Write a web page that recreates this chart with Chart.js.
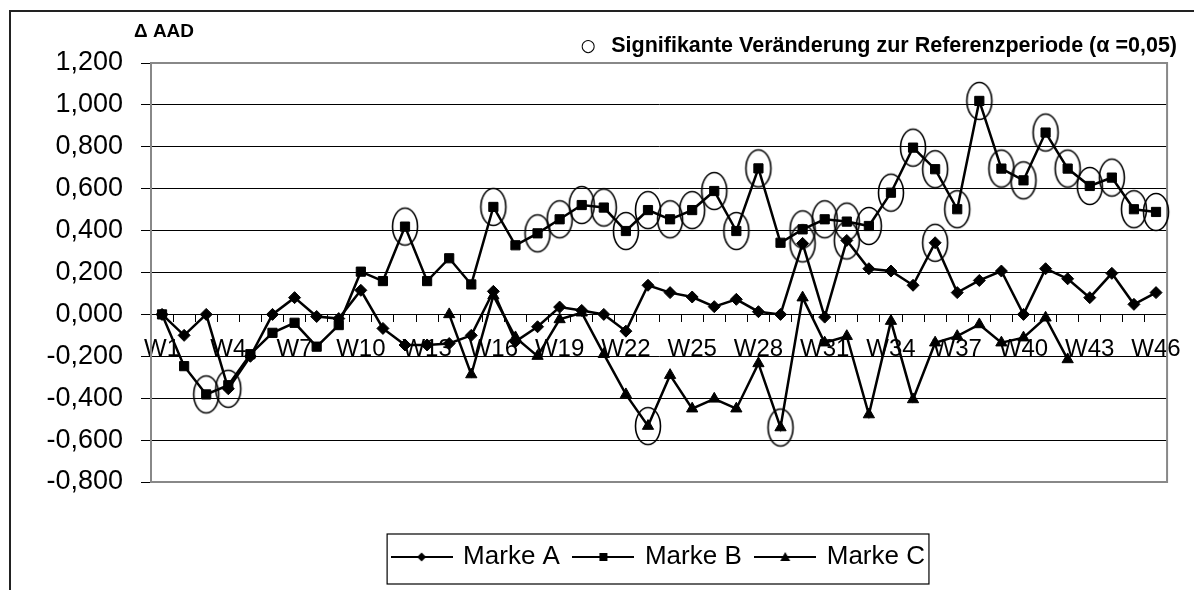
<!DOCTYPE html>
<html>
<head>
<meta charset="utf-8">
<script src="https://cdn.jsdelivr.net/npm/chart.js@4.4.0/dist/chart.umd.min.js"></script>
<style>
  html, body { margin: 0; padding: 0; background: #fff; }
  canvas { display: block; }
</style>
</head>
<body>
<canvas id="myChart" width="1195" height="590"></canvas>
<script>
const weeks = ['W1', 'W2', 'W3', 'W4', 'W5', 'W6', 'W7', 'W8', 'W9', 'W10',
  'W11', 'W12', 'W13', 'W14', 'W15', 'W16', 'W17', 'W18', 'W19', 'W20',
  'W21', 'W22', 'W23', 'W24', 'W25', 'W26', 'W27', 'W28', 'W29', 'W30',
  'W31', 'W32', 'W33', 'W34', 'W35', 'W36', 'W37', 'W38', 'W39', 'W40',
  'W41', 'W42', 'W43', 'W44', 'W45', 'W46'];

const markeA = [0.000, -0.100, 0.000, -0.355, -0.200, 0.000, 0.080, -0.010, -0.020, 0.115,
  -0.067, -0.146, -0.146, -0.139, -0.100, 0.110, -0.130, -0.059, 0.035, 0.019,
  0.000, -0.080, 0.139, 0.104, 0.083, 0.037, 0.072, 0.013, 0.000, 0.339,
  -0.013, 0.353, 0.218, 0.207, 0.139, 0.342, 0.104, 0.162, 0.207, 0.000,
  0.218, 0.170, 0.080, 0.196, 0.048, 0.104];

const markeB = [0.000, -0.247, -0.382, -0.338, -0.190, -0.088, -0.040, -0.154, -0.051, 0.204,
  0.159, 0.419, 0.159, 0.268, 0.143, 0.513, 0.330, 0.387, 0.454, 0.522,
  0.510, 0.398, 0.498, 0.454, 0.498, 0.589, 0.398, 0.697, 0.342, 0.406,
  0.454, 0.443, 0.422, 0.581, 0.796, 0.693, 0.502, 1.019, 0.696, 0.640,
  0.868, 0.696, 0.613, 0.653, 0.502, 0.489];

const markeC = [null, null, null, null, null, null, null, null, null, null,
  null, null, null, 0.000, -0.287, 0.090, -0.110, -0.199, -0.024, 0.008,
  -0.190, -0.382, -0.533, -0.290, -0.450, -0.403, -0.450, -0.234, -0.540, 0.080,
  -0.135, -0.104, -0.478, -0.032, -0.406, -0.135, -0.104, -0.048, -0.135, -0.111,
  -0.016, -0.215, null, null, null, null];

// weeks with a significant change (circled)
const sigA = [4, 30, 32, 36];
const sigB = [3, 12, 16, 18, 19, 20, 21, 22, 23, 24, 25, 26, 27, 28,
  30, 31, 32, 33, 34, 35, 36, 37, 38, 39, 40, 41, 42, 43, 44, 45, 46];
const sigC = [23, 29];

const yTitle = 'Δ AAD';
const sigNote = 'Signifikante Veränderung zur Referenzperiode (α =0,05)';

const fontFamily = '"Liberation Sans", Arial, sans-serif';
Chart.defaults.font.family = fontFamily;
Chart.defaults.color = '#000';

function ellipseImage() {
  const c = document.createElement('canvas');
  c.width = 30;
  c.height = 42;
  const g = c.getContext('2d');
  g.strokeStyle = '#000';
  g.lineWidth = 1.6;
  g.beginPath();
  g.ellipse(15, 21, 12.5, 18.5, 0, 0, Math.PI * 2);
  g.stroke();
  return c;
}

function legendImage(style) {
  const c = document.createElement('canvas');
  c.width = 62;
  c.height = 16;
  const g = c.getContext('2d');
  g.strokeStyle = '#000';
  g.fillStyle = '#000';
  g.lineWidth = 2;
  g.beginPath();
  g.moveTo(0, 8);
  g.lineTo(62, 8);
  g.stroke();
  g.beginPath();
  if (style === 'diamond') {
    g.moveTo(31, 3.5); g.lineTo(35.5, 8); g.lineTo(31, 12.5); g.lineTo(26.5, 8);
  } else if (style === 'square') {
    g.rect(27, 4, 8, 8);
  } else {
    g.moveTo(31, 3); g.lineTo(36, 12); g.lineTo(26, 12);
  }
  g.closePath();
  g.fill();
  return c;
}

const ring = ellipseImage();

function sigData(values, sig) {
  return values.map((v, i) => (sig.includes(i + 1) ? v : null));
}

function series(label, data, style, radius) {
  return {
    label: label,
    data: data,
    borderColor: '#000',
    backgroundColor: '#000',
    borderWidth: 2.5,
    pointStyle: style,
    pointRadius: radius,
    pointBorderWidth: 1,
    pointBackgroundColor: '#000',
    pointBorderColor: '#000',
    tension: 0
  };
}

function rings(data) {
  return {
    label: 'sig',
    data: data,
    showLine: false,
    pointStyle: ring,
    pointRadius: 12,
    borderColor: '#000',
    backgroundColor: 'transparent'
  };
}

const decorations = {
  id: 'decorations',
  beforeDatasetsDraw(chart) {
    const {ctx, chartArea: a} = chart;
    ctx.save();
    ctx.strokeStyle = '#888';
    ctx.lineWidth = 2;
    ctx.strokeRect(a.left, a.top, a.right - a.left, a.bottom - a.top);
    ctx.restore();
  },
  afterDraw(chart) {
    const ctx = chart.ctx;
    ctx.save();
    // outer frame
    ctx.strokeStyle = '#222';
    ctx.lineWidth = 2;
    ctx.beginPath();
    ctx.moveTo(10, 590);
    ctx.lineTo(10, 11);
    ctx.lineTo(1194, 11);
    ctx.stroke();

    ctx.fillStyle = '#000';
    ctx.textBaseline = 'alphabetic';
    ctx.font = 'bold 19px ' + fontFamily;
    ctx.textAlign = 'center';
    ctx.fillText(yTitle, 164, 37);

    ctx.font = 'bold 21.5px ' + fontFamily;
    ctx.textAlign = 'right';
    ctx.fillText(sigNote, 1177, 52);
    const w = ctx.measureText(sigNote).width;
    ctx.font = '17px "DejaVu Sans", sans-serif';
    ctx.textAlign = 'center';
    ctx.fillText('○', 1177 - w - 23, 51);

    // box round the legend
    const hb = chart.legend.legendHitBoxes;
    if (hb && hb.length) {
      const first = hb[0];
      const last = hb[hb.length - 1];
      ctx.strokeStyle = '#000';
      ctx.lineWidth = 1.2;
      ctx.strokeRect(first.left - 6, first.top - 10, last.left + last.width + 4 - (first.left - 6), 50);
    }
    ctx.restore();
  }
};

const ctx = document.getElementById('myChart').getContext('2d');

const config = {
  type: 'line',
  data: {
    labels: weeks,
    datasets: [
      series('Marke A', markeA, 'rectRot', 6),
      series('Marke B', markeB, 'rect', 6.5),
      series('Marke C', markeC, 'triangle', 6.5),
      rings(sigData(markeA, sigA)),
      rings(sigData(markeB, sigB)),
      rings(sigData(markeC, sigC))
    ]
  },
  options: {
    responsive: false,
    animation: false,
    events: [],
    layout: { padding: { left: 10, right: 19, top: 63, bottom: 10 } },
    scales: {
      x: {
        type: 'category',
        position: { y: 0 },
        offset: true,
        border: { color: '#000', width: 1 },
        grid: { drawOnChartArea: false, drawTicks: true, tickLength: 7, color: '#000', offset: true },
        ticks: {
          autoSkip: false,
          maxRotation: 0,
          padding: 14,
          font: { size: 24 },
          callback: (v, i) => (i % 3 === 0 ? weeks[i] : '')
        }
      },
      y: {
        min: -0.8,
        max: 1.2,
        afterFit: (scale) => { scale.width = 141; },
        border: { color: '#808080', width: 2 },
        grid: { color: '#000', lineWidth: 1, tickLength: 10 },
        ticks: {
          stepSize: 0.2,
          padding: 18,
          font: { size: 27 },
          callback: (v) => v.toFixed(3).replace('.', ',')
        }
      }
    },
    plugins: {
      tooltip: { enabled: false },
      legend: {
        position: 'bottom',
        fullSize: false,
        title: { display: true, text: '', font: { size: 10 }, padding: { top: 35, bottom: 0 } },
        labels: {
          usePointStyle: true,
          pointStyleWidth: 57,
          padding: 15,
          font: { size: 26 },
          color: '#000',
          generateLabels: () => [
            { text: 'Marke A', pointStyle: legendImage('diamond'), fillStyle: '#000', strokeStyle: '#000', lineWidth: 0, datasetIndex: 0 },
            { text: 'Marke B', pointStyle: legendImage('square'), fillStyle: '#000', strokeStyle: '#000', lineWidth: 0, datasetIndex: 1 },
            { text: 'Marke C', pointStyle: legendImage('triangle'), fillStyle: '#000', strokeStyle: '#000', lineWidth: 0, datasetIndex: 2 }
          ]
        }
      }
    }
  },
  plugins: [decorations]
};

const myChart = new Chart(ctx, config);
</script>
</body>
</html>
